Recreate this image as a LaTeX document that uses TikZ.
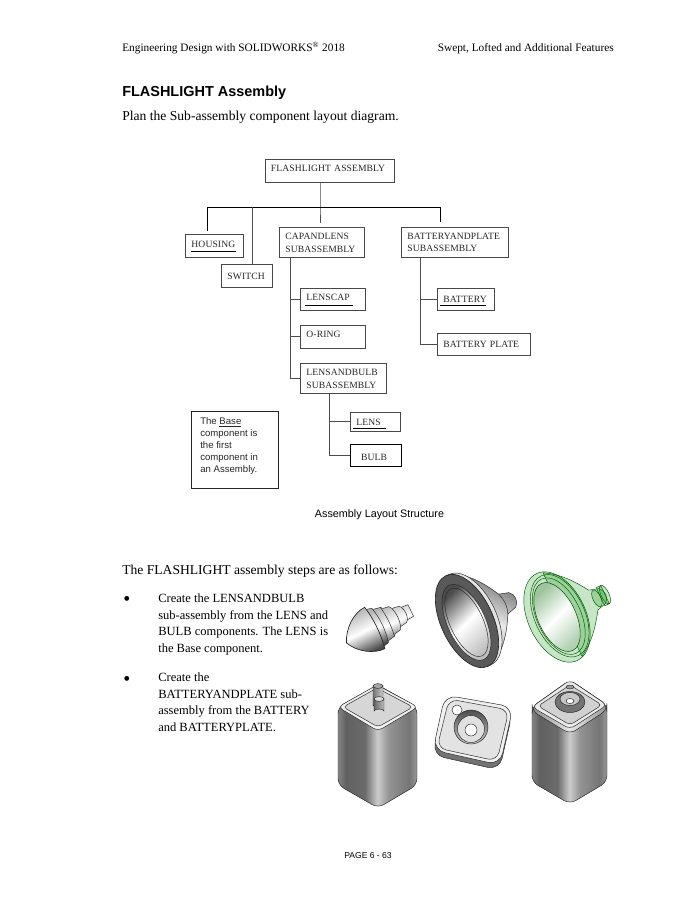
\documentclass[tikz,border=0pt]{standalone}
\usepackage{fontspec}
\setmainfont{Liberation Serif}
\setsansfont{Liberation Sans}
\newfontfamily\partfont[LetterSpace=1]{Liberation Serif}
\usetikzlibrary{positioning}
\pgfdeclarehorizontalshading{batterybody}{100bp}{gray(0bp)=(.52); gray(25bp)=(.52); gray(30bp)=(.38); gray(42bp)=(.42); gray(50bp)=(.80); gray(57bp)=(.58); gray(70bp)=(.46); gray(75bp)=(.60); gray(100bp)=(.60)}
\tikzset{
  pagetext/.style={inner sep=0pt,anchor=base west,font=\fontsize{10.2}{12.2}\selectfont},
  steptext/.style={inner sep=0pt,anchor=north west,align=left,font=\fontsize{9.4}{12.3}\selectfont},
  partbox/.style 2 args={draw=black!72,line width=.7pt,inner xsep=4.5pt,inner ysep=0pt,align=left,
    text width=#1*.75pt-9pt,minimum height=#2*.75pt,text=black!85,
    font=\partfont\fontsize{7.2}{9.6}\selectfont},
  treeline/.style={draw=black!70,line width=.75pt},
  partline/.style={draw=black,line width=.6pt},
  metal/.style={top color=black!30,bottom color=black!72,middle color=white,shading angle=#1},
  edge/.style={draw=black!85,line width=.35pt},
  glass/.style={draw=green!35!black,line width=.35pt,fill=green!55!black,fill opacity=.22},
}
\begin{document}
\begin{tikzpicture}[x=.75pt,y=-.75pt]
    \useasboundingbox (0,0) rectangle (695,900);

    % Cabecera y texto de la pagina.
    \node[pagetext,font=\fontsize{8.5}{10}\selectfont] (headleft) at (122,51) {Engineering Design with SOLIDWORKS\textsuperscript{\textregistered} 2018};
    \node[pagetext,font=\fontsize{8.5}{10}\selectfont,anchor=base east] (headright) at (614,51) {Swept, Lofted and Additional Features};
    \node[pagetext,font=\sffamily\bfseries\fontsize{10.85}{12}\selectfont] (title) at (122,96) {FLASHLIGHT Assembly};
    \node[pagetext] (plan) at (122,120) {Plan the Sub-assembly component layout diagram.};

    % Cajas del arbol.
    \node[partbox={129}{23},anchor=north west,text depth=3.5pt] (flashlight) at (264.5,159) {FLASHLIGHT ASSEMBLY};
    \node[partbox={58}{23},anchor=north west,text depth=2.5pt] (housing) at (185,234) {HOUSING};
    \node[partbox={51}{23},anchor=north west] (switch) at (221,264) {SWITCH};
    \node[partbox={85}{30},anchor=north west] (capandlens) at (279,227) {CAPANDLENS\\SUBASSEMBLY};
    \node[partbox={107}{30},anchor=north west] (batteryandplate) at (401,227) {BATTERYANDPLATE\\SUBASSEMBLY};
    \node[partbox={65}{22},anchor=north west,text depth=2.5pt] (lenscap) at (300,288) {LENSCAP};
    \node[partbox={65}{23},anchor=north west,text depth=3.5pt] (oring) at (300,325) {O-RING};
    \node[partbox={57}{22},anchor=north west] (battery) at (437,288) {BATTERY};
    \node[partbox={93}{22},anchor=north west] (batteryplate) at (437,333) {BATTERY PLATE};
    \node[partbox={86}{30},anchor=north west] (lensandbulb) at (300,363) {LENSANDBULB\\SUBASSEMBLY};
    \node[partbox={50}{19},anchor=north west] (lens) at (350,412) {LENS};
    \node[partbox={51}{22},anchor=north west,draw=black,inner xsep=8pt,text width=51*.75pt-16pt,text height=8pt] (bulb) at (350,444) {BULB};

    % Subrayado de los componentes base.
    \draw[partline] (191,251) -- (236,251);
    \draw[partline] (305,305) -- (353,305);
    \draw[partline] (440,305) -- (486,305);
    \draw[partline] (353,428.5) -- (386,428.5);

    % Lineas del arbol.
    \coordinate (topjoin) at (320,207);
    \coordinate (housingjoin) at (207.5,207);
    \coordinate (switchjoin) at (252.5,207);
    \coordinate (platejoin) at (440,207);
    \coordinate (capjoin) at (290,257);
    \coordinate (platedown) at (420,257);
    \coordinate (lensjoin) at (329,393);
    \draw[treeline] (flashlight.south -| topjoin) -- (topjoin) -- ([yshift=3pt]capandlens.north -| topjoin);
    \draw[treeline,draw=black] (housing.north -| housingjoin) ++(0,-3) -- (housingjoin) -- (platejoin) -- ++(0,15);
    \draw[treeline] (switchjoin) -- (switch.north -| switchjoin);
    \draw[treeline] (capjoin) |- (lensandbulb.west);
    \draw[treeline] (capjoin |- lenscap.west) -- (lenscap.west);
    \draw[treeline] (capjoin |- oring.west) -- (oring.west);
    \draw[treeline] (platedown) |- (batteryplate.west);
    \draw[treeline] (platedown |- battery.west) -- (battery.west);
    \draw[treeline] (lensjoin) |- (bulb.west);
    \draw[treeline] (lensjoin |- lens.west) -- (lens.west);

    % Nota y pie de la figura.
    \node[draw=black!85,line width=.7pt,anchor=north west,minimum width=65.25pt,minimum height=57.75pt] (notebox) at (191,411) {};
    \node[inner sep=0pt,anchor=north west,align=left,font=\sffamily\fontsize{7.2}{9}\selectfont,text=black!85] (notetext) at (200,417) {The \underline{Base}\\component is\\the first\\component in\\an Assembly.};
    \node[inner sep=0pt,font=\sffamily\fontsize{8.1}{10}\selectfont] (caption) at (379.5,515) {Assembly Layout Structure};

    % Pasos del ensamblaje.
    \node[pagetext] (steps) at (122,574) {The FLASHLIGHT assembly steps are as follows:};
    \node[inner sep=0pt,font=\fontsize{15}{16}\selectfont] (bulletone) at (127,601) {\textbullet};
    \node[steptext] (stepone) at (158,594) {Create the LENSANDBULB\\sub-assembly from the LENS and\\BULB components. The LENS is\\the Base component.};
    \node[inner sep=0pt,font=\fontsize{15}{16}\selectfont] (bullettwo) at (127,681) {\textbullet};
    \node[steptext] (steptwo) at (158,673) {Create the\\BATTERYANDPLATE sub-\\assembly from the BATTERY\\and BATTERYPLATE.};

    % Bombilla.
    \begin{scope}[shift={(346,642)},rotate=26]
        \shade[metal=26,edge] (36,-18) -- (46,-16) -- (48,-14) -- (54,-13) -- (56,-10) -- (63,-9) -- (65,-7) -- (72,-6.5) -- (72,6.5) -- (65,7) -- (63,9) -- (56,10) -- (54,13) -- (48,14) -- (46,16) -- (36,18) -- cycle;
        \draw[edge] (46,-16) .. controls (48,-6) and (48,6) .. (46,16);
        \draw[edge] (56,-10) .. controls (58,-3) and (58,3) .. (56,10);
        \draw[edge] (65,-7) .. controls (67,-2) and (67,2) .. (65,7);
        \shade[metal=26,edge] (30,-21) -- (38,-19) .. controls (41,-7) and (41,7) .. (38,19) -- (30,21) -- cycle;
        \shade[metal=26,edge,line width=.5pt] (0,1) .. controls (6,-13) and (20,-23) .. (32,-23) .. controls (35,-8) and (35,8) .. (32,23) .. controls (20,23) and (6,14) .. (0,1) -- cycle;
    \end{scope}

    % Reflector.
    \begin{scope}[shift={(467,621)},rotate=-65]
        \shade[top color=black!55,bottom color=black!45,middle color=black!8,shading angle=-25,edge] (-49,-6) .. controls (-40,-24) and (-22,-34) .. (-11,-40) -- (-8,-50) .. controls (-4,-55) and (4,-55) .. (8,-50) -- (11,-40) .. controls (22,-34) and (40,-24) .. (49,-6) -- cycle;
        \draw[edge] (-11,-40) .. controls (-4,-43) and (4,-43) .. (11,-40);
        \filldraw[edge,fill=black!10] (0,-3) circle [x radius=50,y radius=27];
        \fill[black!65] (0,0) circle [x radius=50,y radius=26];
        \draw[edge,line width=.5pt] (0,0) circle [x radius=50,y radius=26];
        \shade[top color=black!70,bottom color=black!25,middle color=white,shading angle=45,edge] (1,1) circle [x radius=41,y radius=19];
        \draw[edge] (1,1) circle [x radius=37,y radius=16.5];
    \end{scope}

    % Reflector transparente.
    \begin{scope}[shift={(557,617)},rotate=-65]
        \filldraw[glass] (-46,-6) .. controls (-36,-24) and (-20,-34) .. (-11,-40) -- (-8,-50) .. controls (-4,-55) and (4,-55) .. (8,-50) -- (11,-40) .. controls (20,-34) and (36,-24) .. (46,-6) -- cycle;
        \filldraw[glass] (-10,-48) rectangle (10,-53);
        \filldraw[glass] (0,-53) circle [x radius=10,y radius=4];
        \filldraw[glass] (0,-44) circle [x radius=9,y radius=4];
        \filldraw[glass] (0,0) circle [x radius=48,y radius=29];
        \draw[edge,draw=green!35!black] (0,-3) circle [x radius=44,y radius=25];
        \draw[edge,draw=green!35!black] (0,-2) circle [x radius=41,y radius=22];
        \shade[top color=green!40!black!38,bottom color=green!40!black!30,middle color=white,shading angle=45,edge,draw=green!25!black] (0,0) circle [x radius=37,y radius=19];
    \end{scope}

    % Bateria sin tapa.
    \shade[shading=batterybody,edge,rounded corners=5pt] (338,707) -- (338,785) -- (378,808) -- (417,785) -- (417,707) -- (378,685) -- cycle;
    \filldraw[edge,fill=black!6,rounded corners=4pt] (338,707) -- (377,685) -- (418,707) -- (378,731) -- cycle;
    \filldraw[edge,fill=black!16,rounded corners=3pt] (343,707) -- (377,688) -- (413,707) -- (378,727) -- cycle;
    \shade[left color=black!55,right color=black!20,edge] (373,686) -- (373,706) arc[start angle=180,end angle=360,x radius=5,y radius=2] -- (383,686) arc[start angle=0,end angle=180,x radius=5,y radius=2];
    \shade[left color=black!60,right color=black!25,edge] (374,699) -- (374,711) arc[start angle=180,end angle=360,x radius=5,y radius=2] -- (384,699) arc[start angle=0,end angle=180,x radius=5,y radius=2];
    \filldraw[edge,fill=black!15] (379,699) circle [x radius=5,y radius=2.4];
    \filldraw[edge,fill=black!35] (378,686) circle [x radius=5,y radius=2.4];

    % Placa de la bateria.
    \filldraw[edge,fill=black!55,rounded corners=9pt] (444.5,700) -- (512.5,712) -- (499.5,770) -- (432.5,755) -- cycle;
    \filldraw[edge,fill=black!6,rounded corners=9pt] (445,695) -- (513,707) -- (500,765) -- (433,750) -- cycle;
    \filldraw[edge,fill=black!11,rounded corners=7pt] (449,699) -- (509,710) -- (497,761) -- (437,748) -- cycle;
    \shade[top color=black!70,bottom color=black!20,edge] (471,727) circle [radius=17];
    \filldraw[edge,fill=black!12] (471,729) circle [radius=13.5];
    \filldraw[edge,fill=white] (471,730) circle [radius=6];
    \filldraw[edge,fill=white] (457,710) circle [radius=5];

    % Bateria con tapa.
    \shade[shading=batterybody,edge,rounded corners=5pt] (532,707) -- (532,782) -- (570,804) -- (607,782) -- (607,705) -- (570,680) -- cycle;
    \shade[left color=black!45,right color=black!40,middle color=black!10,edge,rounded corners=5pt] (532,707) -- (532,711) -- (570,734) -- (607,710) -- (607,705) -- (570,680) -- cycle;
    \filldraw[edge,fill=black!8,rounded corners=4pt] (532,707) -- (570,680) -- (607,705) -- (570,729) -- cycle;
    \filldraw[edge,fill=black!18,rounded corners=3pt] (538,706) -- (570,685) -- (602,705) -- (570,725) -- cycle;
    \filldraw[edge,fill=black!55] (570,702) circle [x radius=15,y radius=10.5];
    \filldraw[edge,fill=black!22] (570,699) circle [x radius=10,y radius=6.5];
    \filldraw[edge,fill=black!40] (570,687) circle [x radius=4,y radius=2];
    \filldraw[edge,fill=white] (570,701) circle [x radius=4,y radius=2.5];

    % Pie de pagina.
    \node[inner sep=0pt,font=\sffamily\fontsize{6.4}{8}\selectfont] (pagefoot) at (368,856) {PAGE 6 - 63};
\end{tikzpicture}
\end{document}
